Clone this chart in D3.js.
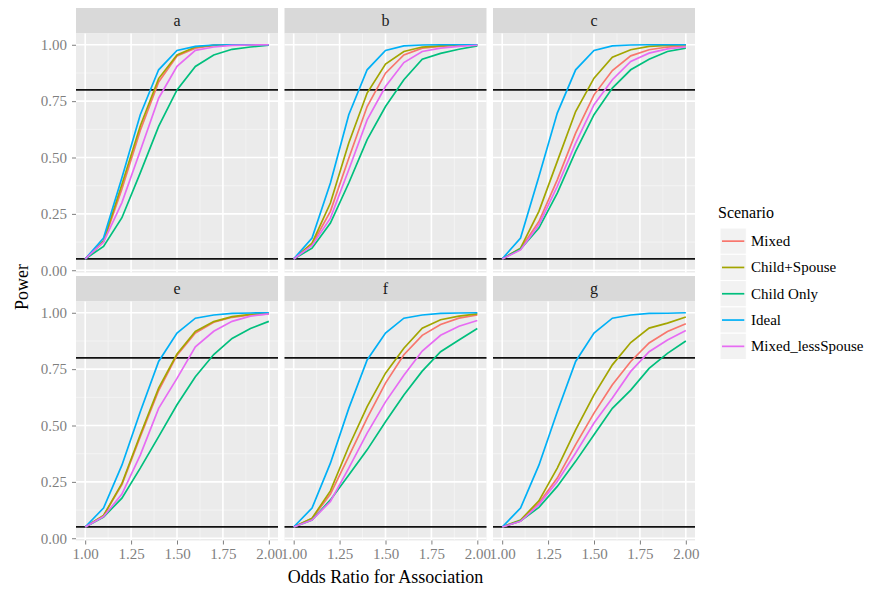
<!DOCTYPE html>
<html>
<head>
<meta charset="utf-8">
<script src="https://cdn.jsdelivr.net/npm/d3@7"></script>
<style>
body { margin: 0; background: #fff; }
svg text { font-family: "Liberation Serif", "DejaVu Serif", serif; }
</style>
</head>
<body>
<svg id="chart" width="874" height="589" font-family="Liberation Serif"></svg>
<script>
// odds ratios on the x axis
var oddsRatio = [1.0, 1.1, 1.2, 1.3, 1.4, 1.5, 1.6, 1.7, 1.8, 1.9, 2.0];
var facets = ["a", "b", "c", "e", "f", "g"];
var scenarios = ["Mixed", "Child+Spouse", "Child Only", "Ideal", "Mixed_lessSpouse"];
var scenarioColors = ["#F8766D", "#A3A500", "#00BF7D", "#00B0F6", "#E76BF3"];
var xTicks = [1.0, 1.25, 1.5, 1.75, 2.0];
var yTicks = [0, 0.25, 0.5, 0.75, 1.0];
var refLines = [0.05, 0.8];

// power per facet, one row per scenario (same order as scenarios)
var powerA = [
	[0.05, 0.125, 0.36, 0.62, 0.835, 0.95, 0.985, 0.997, 0.999, 1.0, 1.0],
	[0.05, 0.13, 0.38, 0.64, 0.85, 0.955, 0.99, 0.997, 0.999, 1.0, 1.0],
	[0.05, 0.106, 0.233, 0.432, 0.638, 0.80, 0.904, 0.955, 0.98, 0.99, 0.998],
	[0.05, 0.143, 0.41, 0.69, 0.889, 0.975, 0.993, 0.999, 1.0, 1.0, 1.0],
	[0.05, 0.125, 0.30, 0.53, 0.763, 0.904, 0.975, 0.99, 0.997, 0.999, 1.0]
];
var powerB = [
	[0.05, 0.115, 0.261, 0.497, 0.726, 0.874, 0.955, 0.985, 0.993, 0.998, 1.0],
	[0.05, 0.12, 0.298, 0.564, 0.786, 0.914, 0.97, 0.99, 0.995, 0.999, 1.0],
	[0.05, 0.098, 0.209, 0.387, 0.579, 0.726, 0.845, 0.936, 0.962, 0.98, 0.995],
	[0.05, 0.143, 0.387, 0.69, 0.889, 0.975, 0.995, 0.999, 1.0, 1.0, 1.0],
	[0.05, 0.11, 0.231, 0.446, 0.667, 0.815, 0.921, 0.97, 0.985, 0.993, 0.998]
];
var powerC = [
	[0.05, 0.095, 0.216, 0.401, 0.608, 0.778, 0.886, 0.951, 0.978, 0.99, 0.995],
	[0.05, 0.098, 0.261, 0.483, 0.704, 0.852, 0.945, 0.978, 0.993, 0.997, 1.0],
	[0.05, 0.094, 0.187, 0.342, 0.527, 0.69, 0.808, 0.889, 0.936, 0.97, 0.985],
	[0.05, 0.143, 0.416, 0.697, 0.889, 0.975, 0.995, 0.999, 1.0, 1.0, 1.0],
	[0.05, 0.09, 0.202, 0.372, 0.564, 0.734, 0.845, 0.926, 0.963, 0.982, 0.99]
];
var powerE = [
	[0.05, 0.10, 0.238, 0.45, 0.655, 0.812, 0.91, 0.958, 0.98, 0.99, 0.995],
	[0.05, 0.101, 0.243, 0.459, 0.666, 0.817, 0.917, 0.961, 0.983, 0.993, 0.997],
	[0.05, 0.094, 0.178, 0.311, 0.451, 0.592, 0.716, 0.815, 0.886, 0.93, 0.962],
	[0.05, 0.134, 0.324, 0.561, 0.784, 0.91, 0.976, 0.99, 0.997, 0.999, 1.0],
	[0.05, 0.096, 0.196, 0.369, 0.576, 0.709, 0.849, 0.918, 0.962, 0.985, 0.995]
];
var powerF = [
	[0.05, 0.087, 0.196, 0.363, 0.533, 0.688, 0.814, 0.90, 0.948, 0.976, 0.99],
	[0.05, 0.089, 0.21, 0.407, 0.584, 0.732, 0.843, 0.932, 0.969, 0.985, 0.995],
	[0.05, 0.081, 0.17, 0.281, 0.392, 0.517, 0.635, 0.741, 0.827, 0.879, 0.93],
	[0.05, 0.134, 0.333, 0.576, 0.791, 0.91, 0.976, 0.99, 0.997, 0.999, 1.0],
	[0.05, 0.081, 0.163, 0.311, 0.466, 0.605, 0.723, 0.83, 0.90, 0.94, 0.966]
];
var powerG = [
	[0.05, 0.077, 0.156, 0.267, 0.415, 0.555, 0.681, 0.784, 0.866, 0.917, 0.951],
	[0.05, 0.081, 0.166, 0.311, 0.481, 0.636, 0.769, 0.868, 0.932, 0.954, 0.981],
	[0.05, 0.077, 0.137, 0.23, 0.341, 0.459, 0.576, 0.657, 0.753, 0.82, 0.875],
	[0.05, 0.134, 0.324, 0.561, 0.784, 0.91, 0.976, 0.99, 0.997, 0.998, 1.0],
	[0.05, 0.075, 0.149, 0.252, 0.378, 0.511, 0.622, 0.74, 0.827, 0.879, 0.921]
];
var facetPower = [powerA, powerB, powerC, powerE, powerF, powerG];

var FONT = "Liberation Serif";
var svg = d3.select("#chart");
svg.append("rect").attr("width", 874).attr("height", 589).attr("fill", "#fff");

var panelW = 202, panelH = 239, stripH = 25.5;
var colX = [76, 284.5, 493];
var rowY = [8, 276];

var x = d3.scaleLinear().domain([0.95, 2.05]).range([0, panelW]);
var y = d3.scaleLinear().domain([-0.01, 1.05]).range([panelH, 0]);

var line = d3.line()
	.x(function(d, i) { return x(oddsRatio[i]); })
	.y(function(d) { return y(d); });

facets.forEach(function(name, k) {
	var col = k % 3, row = Math.floor(k / 3);
	var g = svg.append("g")
		.attr("transform", "translate(" + colX[col] + "," + rowY[row] + ")");

	// strip
	g.append("rect").attr("width", panelW).attr("height", stripH).attr("fill", "#d9d9d9");
	g.append("text").text(name)
		.attr("x", panelW / 2).attr("y", stripH / 2 + 5)
		.attr("text-anchor", "middle").attr("font-family", FONT)
		.attr("font-size", 16).attr("fill", "#1a1a1a");

	var p = g.append("g").attr("transform", "translate(0," + stripH + ")");
	p.append("rect").attr("width", panelW).attr("height", panelH).attr("fill", "#ebebeb");

	// minor grid
	var xMinor = [1.125, 1.375, 1.625, 1.875];
	var yMinor = [0.125, 0.375, 0.625, 0.875];
	p.selectAll(".xmin").data(xMinor).enter().append("line")
		.attr("x1", d => x(d)).attr("x2", d => x(d)).attr("y1", 0).attr("y2", panelH)
		.attr("stroke", "#f5f5f5").attr("stroke-width", 0.8);
	p.selectAll(".ymin").data(yMinor).enter().append("line")
		.attr("y1", d => y(d)).attr("y2", d => y(d)).attr("x1", 0).attr("x2", panelW)
		.attr("stroke", "#f5f5f5").attr("stroke-width", 0.8);
	// major grid
	p.selectAll(".xmaj").data(xTicks).enter().append("line")
		.attr("x1", d => x(d)).attr("x2", d => x(d)).attr("y1", 0).attr("y2", panelH)
		.attr("stroke", "#fff").attr("stroke-width", 1.6);
	p.selectAll(".ymaj").data(yTicks).enter().append("line")
		.attr("y1", d => y(d)).attr("y2", d => y(d)).attr("x1", 0).attr("x2", panelW)
		.attr("stroke", "#fff").attr("stroke-width", 1.6);

	// reference lines
	p.selectAll(".ref").data(refLines).enter().append("line")
		.attr("y1", d => y(d)).attr("y2", d => y(d)).attr("x1", 0).attr("x2", panelW)
		.attr("stroke", "#111").attr("stroke-width", 1.8);

	// power curves
	facetPower[k].forEach(function(series, s) {
		p.append("path").datum(series)
			.attr("d", line)
			.attr("fill", "none")
			.attr("stroke", scenarioColors[s])
			.attr("stroke-width", 1.7);
	});

	// y axis on first column
	if (col === 0) {
		var ya = p.append("g").call(d3.axisLeft(y).tickValues(yTicks).tickFormat(d3.format(".2f")).tickSize(4).tickPadding(5));
		ya.attr("font-family", FONT);
		ya.select(".domain").remove();
		ya.selectAll("line").attr("stroke", "#7f7f7f");
		ya.selectAll("text").attr("fill", "#7f7f7f").attr("font-size", 15);
	}
	// x axis on bottom row
	if (row === 1) {
		var xa = p.append("g").attr("transform", "translate(0," + panelH + ")")
			.call(d3.axisBottom(x).tickValues(xTicks).tickFormat(d3.format(".2f")).tickSize(4).tickPadding(4));
		xa.attr("font-family", FONT);
		xa.select(".domain").remove();
		xa.selectAll("line").attr("stroke", "#7f7f7f");
		xa.selectAll("text").attr("fill", "#7f7f7f").attr("font-size", 15);
	}
});

// axis titles
svg.append("text").text("Odds Ratio for Association")
	.attr("x", (colX[0] + colX[2] + panelW) / 2).attr("y", 583)
	.attr("text-anchor", "middle").attr("font-family", FONT)
	.attr("font-size", 18).attr("fill", "#000");
svg.append("text").text("Power")
	.attr("transform", "translate(28," + (rowY[0] + stripH + (rowY[1] + stripH + panelH - rowY[0] - stripH) / 2) + ") rotate(-90)")
	.attr("text-anchor", "middle").attr("font-family", FONT)
	.attr("font-size", 18).attr("fill", "#000");

// legend
var legend = svg.append("g").attr("transform", "translate(718,0)").attr("font-family", FONT);
legend.append("text").text("Scenario").attr("x", 0).attr("y", 218)
	.attr("font-size", 16).attr("fill", "#000");
var keyH = 26.3;
scenarios.forEach(function(name, i) {
	var ky = 228 + i * keyH;
	legend.append("rect").attr("x", 2).attr("y", ky).attr("width", keyH).attr("height", keyH)
		.attr("fill", "#f2f2f2").attr("stroke", "#fff").attr("stroke-width", 1);
	legend.append("line").attr("x1", 4).attr("x2", 2 + keyH - 2)
		.attr("y1", ky + keyH / 2).attr("y2", ky + keyH / 2)
		.attr("stroke", scenarioColors[i]).attr("stroke-width", 1.7);
	legend.append("text").text(name).attr("x", 33).attr("y", ky + keyH / 2 + 5)
		.attr("font-size", 15).attr("fill", "#000");
});
</script>
</body>
</html>
